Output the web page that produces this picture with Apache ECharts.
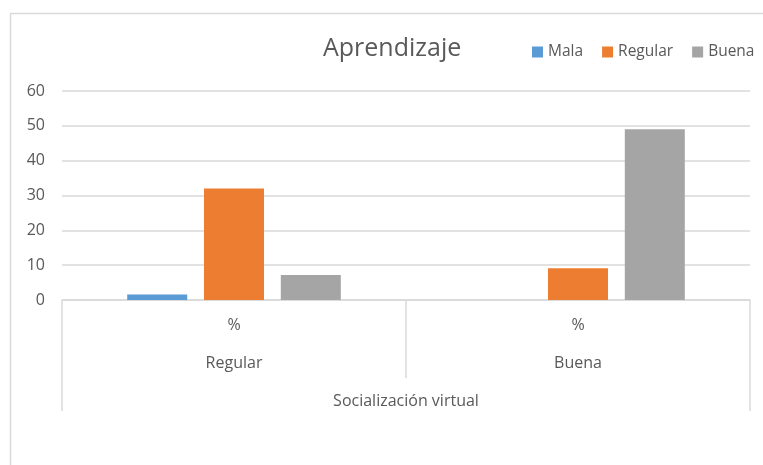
<!DOCTYPE html>
<html>
<head>
<meta charset="utf-8">
<title>Aprendizaje</title>
<script src="https://cdn.jsdelivr.net/npm/echarts@6/dist/echarts.min.js"></script>
<style>
  html, body { margin: 0; padding: 0; background: #fff; }
  #main { width: 763px; height: 465px; }
</style>
</head>
<body>
<div id="main"></div>
<script>
// datos
var categorias = ['%', '%'];
var grupos = ['Regular', 'Buena'];
var nivelSuperior = ['Socialización virtual'];
var series = ['Mala', 'Regular', 'Buena'];
var mala = [1.6, 0];
var regular = [32, 9.1];
var buena = [7.2, 49];
var colores = ['#5B9BD5', '#ED7D31', '#A5A5A5'];

var fuente = 'Open Sans';
var gris = '#595959';
var linea = '#d9d9d9';

var chart = echarts.init(document.getElementById('main'));

function barra(nombre, datos, color) {
  return {
    name: nombre,
    type: 'bar',
    data: datos,
    barWidth: 60,
    barGap: '28%',
    itemStyle: { color: color }
  };
}

chart.setOption({
  animation: false,
  textStyle: { fontFamily: fuente },
  title: {
    text: 'Aprendizaje',
    left: 318,
    top: 31,
    textStyle: { fontFamily: fuente, fontSize: 25, fontWeight: 'normal', color: gris }
  },
  legend: {
    data: series,
    left: 527,
    top: 39,
    itemWidth: 11,
    itemHeight: 11,
    itemGap: 19,
    icon: 'rect',
    textStyle: { fontFamily: fuente, fontSize: 15.5, color: gris }
  },
  graphic: [{
    type: 'rect',
    shape: { x: 10.5, y: 13.5, width: 800, height: 500 },
    style: { fill: 'none', stroke: linea, lineWidth: 1.5 },
    silent: true
  }],
  grid: { left: 62, right: 13, top: 91, bottom: 165 },
  xAxis: [{
    type: 'category',
    data: categorias,
    axisLine: { lineStyle: { color: linea, width: 1.5 } },
    axisTick: { show: false },
    axisLabel: { margin: 17, fontSize: 16, color: gris, fontFamily: fuente }
  }, {
    type: 'category',
    data: grupos,
    position: 'bottom',
    axisLine: { show: false },
    axisTick: { show: true, length: 78, lineStyle: { color: linea, width: 1.5 } },
    axisLabel: { margin: 55, fontSize: 16, color: gris, fontFamily: fuente }
  }, {
    type: 'category',
    data: nivelSuperior,
    position: 'bottom',
    axisLine: { show: false },
    axisTick: { show: true, length: 111, lineStyle: { color: linea, width: 1.5 } },
    axisLabel: { margin: 93, fontSize: 16, color: gris, fontFamily: fuente }
  }],
  yAxis: {
    type: 'value',
    min: 0,
    max: 60,
    interval: 10,
    axisLine: { show: false },
    axisTick: { show: false },
    axisLabel: { margin: 17, fontSize: 16, color: gris, fontFamily: fuente },
    splitLine: { lineStyle: { color: linea, width: 1.5 } }
  },
  series: [
    barra(series[0], mala, colores[0]),
    barra(series[1], regular, colores[1]),
    barra(series[2], buena, colores[2])
  ]
});
</script>
</body>
</html>
